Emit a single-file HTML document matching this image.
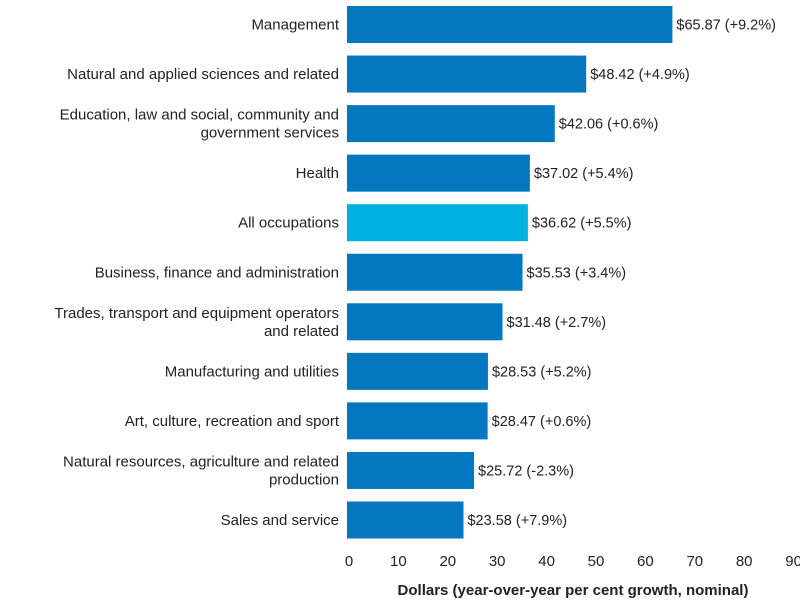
<!DOCTYPE html>
<html><head><meta charset="utf-8"><style>
body{margin:0;background:#fff;}
svg text{font-family:"Liberation Sans",sans-serif;fill:#222;}
</style></head><body>
<svg id="chart" width="800" height="600"></svg>
<script>
const categories=["Management","Natural and applied sciences and related","Education, law and social, community and|government services","Health","All occupations","Business, finance and administration","Trades, transport and equipment operators|and related","Manufacturing and utilities","Art, culture, recreation and sport","Natural resources, agriculture and related|production","Sales and service"];
const values=[65.87,48.42,42.06,37.02,36.62,35.53,31.48,28.53,28.47,25.72,23.58];
const growth=["+9.2%","+4.9%","+0.6%","+5.4%","+5.5%","+3.4%","+2.7%","+5.2%","+0.6%","-2.3%","+7.9%"];
const ticks=[0,10,20,30,40,50,60,70,80,90];
const NS="http://www.w3.org/2000/svg";
const svg=document.getElementById('chart');
const x0=347,k=4.94;
const xs=v=>x0+v*k;
const yc=i=>24.5+i*49.55;
const bh=37;
function mk(t,a){const e=document.createElementNS(NS,t);for(const n in a)e.setAttribute(n,a[n]);svg.appendChild(e);return e;}
categories.forEach((c,i)=>{
 const r=mk('rect',{x:x0,y:yc(i)-bh/2,width:xs(values[i])-x0,height:bh,fill:c==="All occupations"?"#00b0e0":"#0378c0"});
 
 
 const lines=c.split('|');
 lines.forEach((l,j)=>{
  const t=mk('text',{x:339,y:yc(i)+5+(lines.length>1?(j-0.5)*18:0),'text-anchor':'end','font-size':15});
  t.textContent=l;
  
  
 });
 const v=mk('text',{x:xs(values[i])+4,y:yc(i)+5,'font-size':14.5});
 v.textContent='$'+values[i].toFixed(2)+' ('+growth[i]+')';
 
 
});
ticks.forEach(t=>{
 const e=mk('text',{x:xs(t)+2,y:566,'text-anchor':'middle','font-size':15});
 e.textContent=t;
 
 
});
const tt=mk('text',{x:573,y:595,'text-anchor':'middle','font-size':15,'font-weight':'bold'});
tt.textContent='Dollars (year-over-year per cent growth, nominal)';


</script>
</body></html>
